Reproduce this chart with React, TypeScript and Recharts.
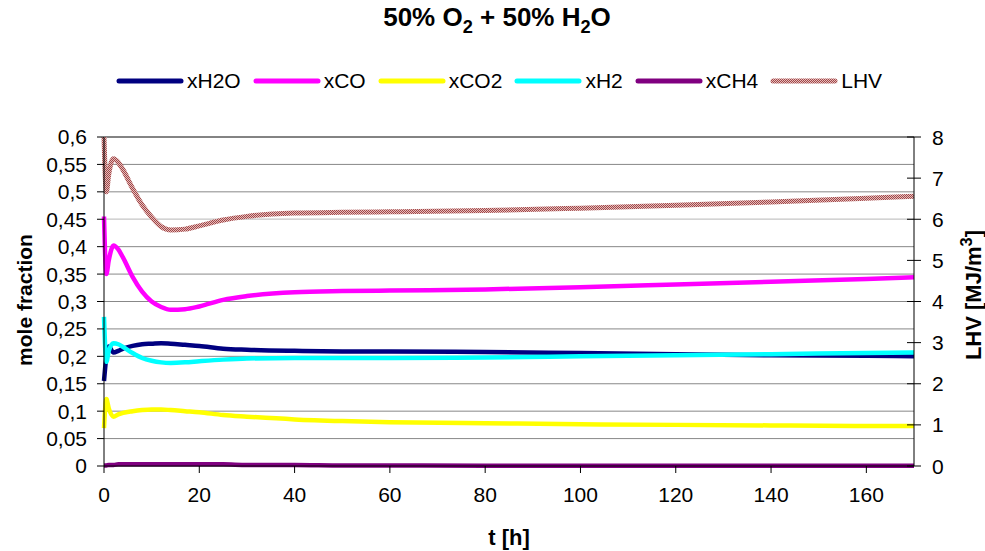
import React from 'react';
import { LineChart, Line, XAxis, YAxis, CartesianGrid, ReferenceLine } from 'recharts';

// time axis [h] and the sampled gas composition / heating value
const hours = [0, 0.5, 1, 2, 3, 4, 6, 8, 10, 12, 14, 17, 20, 25, 30, 40, 50, 60, 80, 100, 120, 140, 160, 170];
const xH2O = [0.155, 0.2, 0.218, 0.207, 0.21, 0.214, 0.219, 0.222, 0.223, 0.224, 0.223, 0.221, 0.219, 0.214, 0.212, 0.21, 0.209, 0.209, 0.208, 0.206, 0.204, 0.202, 0.201, 0.2];
const xCO = [0.455, 0.35, 0.375, 0.402, 0.395, 0.38, 0.345, 0.318, 0.3, 0.29, 0.285, 0.286, 0.291, 0.303, 0.31, 0.317, 0.319, 0.32, 0.322, 0.326, 0.331, 0.336, 0.341, 0.344];
const xCO2 = [0.069, 0.122, 0.105, 0.09, 0.094, 0.097, 0.1, 0.102, 0.103, 0.103, 0.102, 0.1, 0.098, 0.093, 0.09, 0.085, 0.082, 0.08, 0.078, 0.076, 0.075, 0.074, 0.073, 0.073];
const xH2 = [0.272, 0.19, 0.21, 0.224, 0.222, 0.217, 0.206, 0.197, 0.192, 0.189, 0.188, 0.189, 0.191, 0.194, 0.196, 0.197, 0.197, 0.197, 0.198, 0.2, 0.202, 0.204, 0.206, 0.207];
const xCH4 = [0.001, 0.001, 0.002, 0.002, 0.003, 0.003, 0.003, 0.003, 0.003, 0.003, 0.003, 0.003, 0.003, 0.003, 0.002, 0.002, 0.001, 0.001, 0.0005, 0.0005, 0.0005, 0.0005, 0.0005, 0.0005];
const LHV = [8.0, 6.67, 7.1, 7.47, 7.38, 7.2, 6.75, 6.35, 6.05, 5.82, 5.74, 5.76, 5.84, 5.98, 6.07, 6.15, 6.17, 6.18, 6.21, 6.27, 6.34, 6.42, 6.51, 6.56];

const timeTicks = [0, 20, 40, 60, 80, 100, 120, 140, 160];
const moleTicks = [0, 0.05, 0.1, 0.15, 0.2, 0.25, 0.3, 0.35, 0.4, 0.45, 0.5, 0.55, 0.6];
const lhvTicks = [0, 1, 2, 3, 4, 5, 6, 7, 8];

const data = hours.map((t, i) => ({
  t,
  xH2O: xH2O[i],
  xCO: xCO[i],
  xCO2: xCO2[i],
  xH2: xH2[i],
  xCH4: xCH4[i],
  LHV: LHV[i],
}));

const series = [
  { key: 'xH2O', color: '#000080' },
  { key: 'xCO', color: '#FF00FF' },
  { key: 'xCO2', color: '#FFFF00' },
  { key: 'xH2', color: '#00FFFF' },
  { key: 'xCH4', color: '#800080' },
];

const FONT = '"Liberation Sans", Arial, sans-serif';
const TICK_SIZE = 21;

const fmtComma = (v: number) => String(Number(v.toFixed(2))).replace('.', ',');

// right axis: tick marks cross the axis line
const RightTick = (props: any) => {
  const { x, y, payload } = props;
  const ax = x - 18;
  return (
    <g>
      <line x1={ax - 7} x2={ax + 7} y1={y} y2={y} stroke="#000" strokeWidth={1} />
      <text x={x} y={y} dy="0.36em" textAnchor="start" fontSize={TICK_SIZE} fill="#000" fontFamily={FONT}>
        {payload.value}
      </text>
    </g>
  );
};

const LegendSwatch = ({ color, hatch }: { color: string; hatch?: boolean }) => (
  <svg width={68} height={8} style={{ display: 'block' }}>
    {hatch && (
      <defs>
        <pattern id="lhvHatchLegend" width="2" height="2" patternUnits="userSpaceOnUse">
          <rect width="2" height="2" fill="#e6bcbc" />
          <rect width="1" height="1" fill="#a04848" />
          <rect x="1" y="1" width="1" height="1" fill="#a04848" />
        </pattern>
      </defs>
    )}
    <line x1={3} x2={65} y1={4} y2={4} stroke={hatch ? 'url(#lhvHatchLegend)' : color} strokeWidth={5} strokeLinecap="round" />
  </svg>
);

export default function App() {
  return (
    <div style={{ position: 'absolute', left: 0, top: 0, width: 985, height: 551, background: '#fff', fontFamily: FONT, color: '#000' }}>
      <div style={{ position: 'absolute', left: 497, top: 20, transform: 'translate(-50%, -50%)', fontSize: 26, fontWeight: 'bold', whiteSpace: 'nowrap' }}>
        50% O<sub style={{ fontSize: '70%' }}>2</sub> + 50% H<sub style={{ fontSize: '70%' }}>2</sub>O
      </div>

      <div style={{ position: 'absolute', left: 116, top: 81, transform: 'translateY(-50%)', display: 'flex', alignItems: 'center', fontSize: 21, whiteSpace: 'nowrap' }}>
        {series.map((s) => (
          <div key={s.key} style={{ display: 'flex', alignItems: 'center', marginRight: 12 }}>
            <LegendSwatch color={s.color} />
            <span style={{ marginLeft: 3 }}>{s.key}</span>
          </div>
        ))}
        <div style={{ display: 'flex', alignItems: 'center' }}>
          <LegendSwatch color="#c08080" hatch />
          <span style={{ marginLeft: 3 }}>LHV</span>
        </div>
      </div>

      <div style={{ position: 'absolute', left: 25, top: 300, transform: 'translate(-50%, -50%) rotate(-90deg)', fontSize: 21, fontWeight: 'bold', whiteSpace: 'nowrap' }}>
        mole fraction
      </div>
      <div style={{ position: 'absolute', left: 972, top: 295, transform: 'translate(-50%, -50%) rotate(-90deg)', fontSize: 22, fontWeight: 'bold', whiteSpace: 'nowrap' }}>
        LHV [MJ/m<sup style={{ fontSize: '75%' }}>3</sup>]
      </div>
      <div style={{ position: 'absolute', left: 509, top: 538, transform: 'translate(-50%, -50%)', fontSize: 22, fontWeight: 'bold', whiteSpace: 'nowrap' }}>
        t [h]
      </div>

      <LineChart width={985} height={551} data={data} margin={{ top: 137, right: 0, bottom: 0, left: 0 }}>
        <defs>
          <pattern id="lhvHatch" width="2" height="2" patternUnits="userSpaceOnUse">
            <rect width="2" height="2" fill="#e6bcbc" />
            <rect width="1" height="1" fill="#a04848" />
            <rect x="1" y="1" width="1" height="1" fill="#a04848" />
          </pattern>
        </defs>
        <CartesianGrid yAxisId="mole" vertical={false} stroke="#888" strokeWidth={1} />
        <XAxis
          dataKey="t"
          type="number"
          domain={[0, 170]}
          ticks={timeTicks}
          height={85}
          stroke="#000"
          tickSize={7}
          tickMargin={14}
          tick={{ fontSize: TICK_SIZE, fill: '#000', fontFamily: FONT }}
        />
        <YAxis
          yAxisId="mole"
          orientation="left"
          domain={[0, 0.6]}
          ticks={moleTicks}
          width={104}
          stroke="#000"
          tickSize={7}
          tickMargin={10}
          tickFormatter={fmtComma}
          tick={{ fontSize: TICK_SIZE, fill: '#000', fontFamily: FONT }}
          interval={0}
        />
        <YAxis
          yAxisId="lhv"
          orientation="right"
          domain={[0, 8]}
          ticks={lhvTicks}
          width={71}
          stroke="#000"
          tickLine={false}
          tickSize={0}
          tickMargin={18}
          tick={<RightTick />}
          interval={0}
        />
        <ReferenceLine yAxisId="mole" y={0.45} stroke="#e2e2e2" />
        <ReferenceLine yAxisId="mole" y={0.6} stroke="#444" />
        {series.map((s) => (
          <Line
            key={s.key}
            yAxisId="mole"
            type="monotone"
            dataKey={s.key}
            stroke={s.color}
            strokeWidth={4.5}
            dot={false}
            activeDot={false}
            isAnimationActive={false}
          />
        ))}
        <Line
          yAxisId="lhv"
          type="monotone"
          dataKey="LHV"
          stroke="url(#lhvHatch)"
          strokeWidth={5}
          dot={false}
          activeDot={false}
          isAnimationActive={false}
        />
      </LineChart>
    </div>
  );
}
